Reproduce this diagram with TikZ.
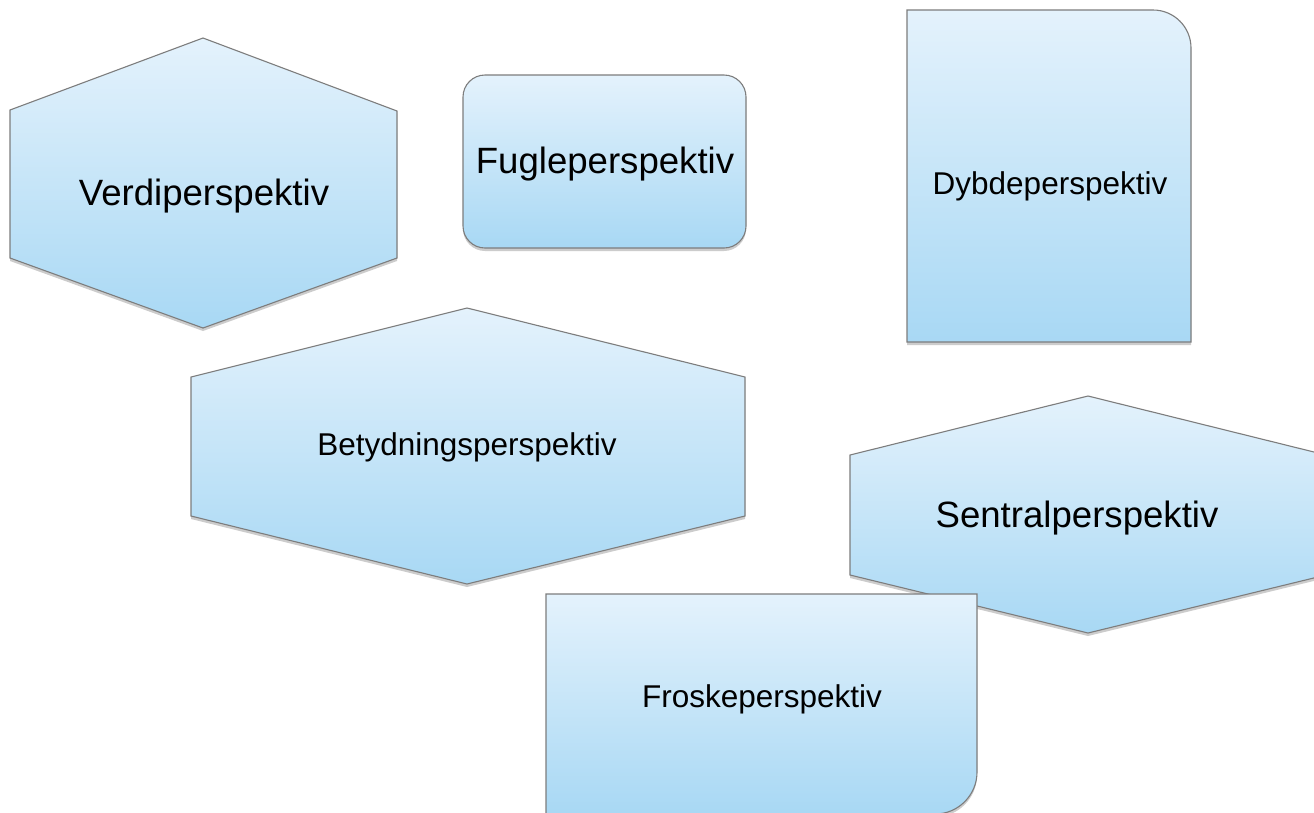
\documentclass[tikz,border=0pt]{standalone}
\usepackage{fontspec}
\setmainfont{Liberation Sans}
\usetikzlibrary{shadows}
\definecolor{topc}{RGB}{228,242,252}
\definecolor{botc}{RGB}{168,216,244}
\definecolor{edgec}{RGB}{125,125,125}
\tikzset{
  shapebox/.style={draw=edgec, line width=1.1pt, top color=topc, bottom color=botc,
    drop shadow={opacity=0.4, shadow xshift=0pt, shadow yshift=-3pt}},
  bigtxt/.style={font=\fontsize{36.6}{40}\selectfont, inner sep=0pt, anchor=base},
  smalltxt/.style={font=\fontsize{31.5}{35}\selectfont, inner sep=0pt, anchor=base}
}
\begin{document}
\begin{tikzpicture}[x=1pt,y=-1pt]
\fill[white] (0,0) rectangle (1314,812);
\clip (0,0) rectangle (1314,812);
% Verdiperspektiv hexagon
\path[shapebox] (203,38) -- (397,111) -- (397,258) -- (203,328) -- (10,258) -- (10,110) -- cycle;
% Fugleperspektiv rounded rectangle
\path[shapebox, rounded corners=22pt] (463,75) rectangle (746,248);
% Dybdeperspektiv
\path[shapebox] (907,342) -- (907,10) -- (1153,10) arc[start angle=270, end angle=360, radius=38] -- (1191,342) -- cycle;
% Betydningsperspektiv hexagon
\path[shapebox] (467,308) -- (745,377) -- (745,516) -- (467,584) -- (191,516) -- (191,377) -- cycle;
% Sentralperspektiv hexagon
\path[shapebox] (1088,396) -- (1326,455) -- (1326,575) -- (1088,633) -- (850,575) -- (850,455) -- cycle;
% Froskeperspektiv
\path[shapebox] (546,594) -- (977,594) -- (977,772) arc[start angle=0, end angle=90, radius=42] -- (546,814) -- cycle;
% texts
\node[bigtxt] (verdi) at (204,205) {Verdiperspektiv};
\node[bigtxt] (fugle) at (605,173) {Fugleperspektiv};
\node[smalltxt] (dybde) at (1050,194) {Dybdeperspektiv};
\node[smalltxt] (betyd) at (467,455) {Betydningsperspektiv};
\node[bigtxt] (sentral) at (1077,527) {Sentralperspektiv};
\node[smalltxt] (froske) at (762,707) {Froskeperspektiv};
\end{tikzpicture}
\end{document}
